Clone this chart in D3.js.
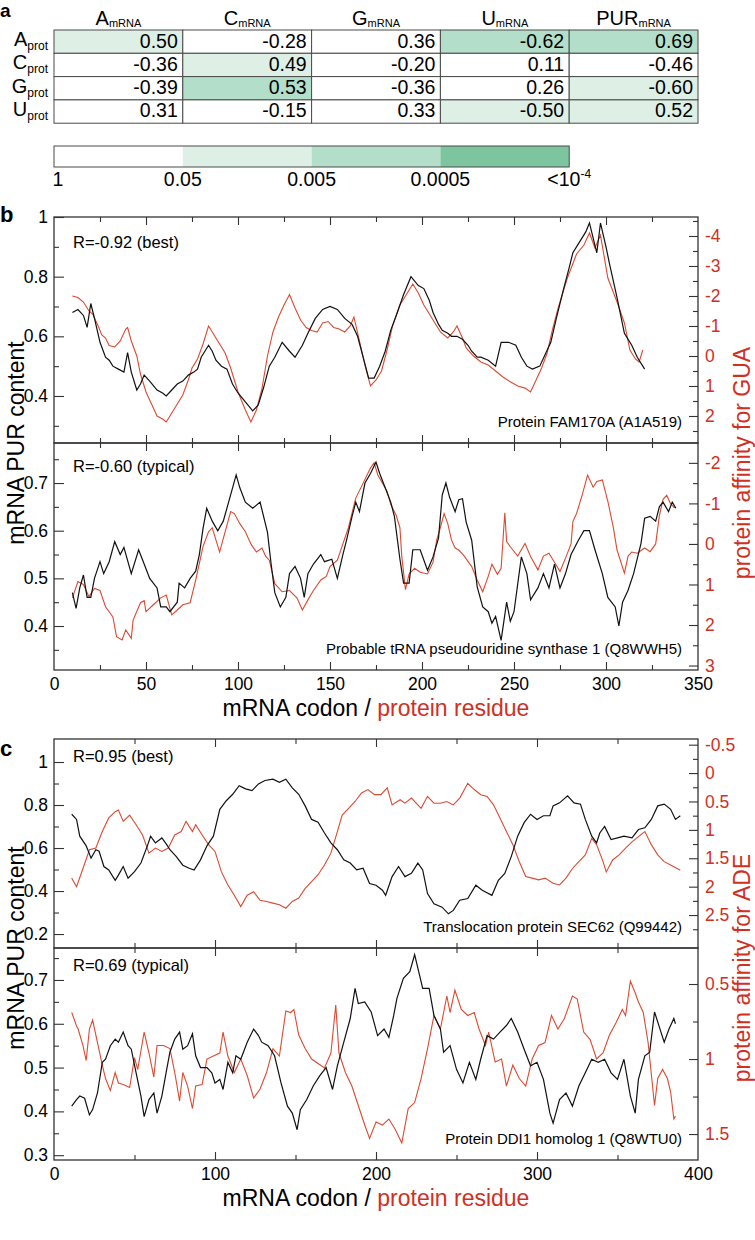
<!DOCTYPE html>
<html><head><meta charset="utf-8">
<script src="https://cdn.jsdelivr.net/npm/d3@7"></script>
<style>
body{margin:0;background:#fff}
svg{display:block}
text{font-family:"Liberation Sans",Arial,Helvetica,sans-serif}
</style>
</head><body>
<svg id="chart" width="755" height="1240"></svg>
<script>
// ---------------- DATA ----------------
const mRNACols = ["A","C","G","U","PUR"];
const protRows = ["A","C","G","U"];
const corrA = [0.50,-0.28,0.36,-0.62,0.69];
const corrC = [-0.36,0.49,-0.20,0.11,-0.46];
const corrG = [-0.39,0.53,-0.36,0.26,-0.60];
const corrU = [0.31,-0.15,0.33,-0.50,0.52];
// significance class: 0 p>0.05, 1 p<0.05, 2 p<0.005, 3 p<0.0005
const sigA = [1,0,0,2,2];
const sigC = [0,1,0,0,0];
const sigG = [0,2,0,0,1];
const sigU = [0,0,0,1,1];
const pLabels = ["1","0.05","0.005","0.0005","<10"];
const sigColors = ["#ffffff","#def0e6","#b3dec9","#7dc59f"];

// panel b (best): Protein FAM170A
const b1Pur = [[10,0.68],[13,0.69],[16,0.67],[18,0.63],[20,0.71],[22,0.66],[25,0.58],[28,0.53],[30,0.52],[32,0.50],[35,0.49],[38,0.48],[40,0.545],[42,0.48],[45,0.42],[47,0.44],[49,0.47],[52,0.45],[56,0.42],[59,0.41],[61,0.40],[64,0.42],[67,0.44],[70,0.45],[73,0.47],[76,0.48],[78,0.49],[80,0.53],[82,0.55],[84,0.57],[86,0.55],[88,0.52],[91,0.50],[94,0.49],[97,0.44],[100,0.41],[104,0.38],[108,0.35],[111,0.37],[114,0.43],[117,0.50],[120,0.53],[124,0.58],[128,0.55],[131,0.53],[135,0.57],[138,0.61],[142,0.66],[146,0.69],[150,0.70],[154,0.69],[158,0.66],[162,0.64],[165,0.60],[168,0.53],[171,0.46],[174,0.46],[177,0.50],[180,0.55],[183,0.62],[186,0.67],[190,0.74],[194,0.80],[198,0.77],[201,0.76],[204,0.72],[206,0.68],[209,0.64],[211,0.62],[214,0.61],[216,0.60],[219,0.60],[222,0.59],[225,0.57],[227,0.55],[230,0.53],[232,0.53],[236,0.52],[240,0.50],[243,0.58],[247,0.58],[251,0.57],[254,0.53],[257,0.50],[260,0.49],[264,0.50],[267,0.54],[270,0.58],[273,0.66],[277,0.76],[280,0.83],[282,0.88],[286,0.92],[289,0.95],[291,0.98],[293,0.93],[295,0.88],[297,0.98],[300,0.90],[302,0.84],[306,0.73],[310,0.61],[314,0.57],[317,0.53],[321,0.49]];
const b1Aff = [[10,-2.0],[13,-1.95],[16,-1.8],[19,-1.5],[21,-1.4],[24,-1.0],[26,-0.7],[28,-0.6],[30,-0.35],[33,-0.3],[36,-0.5],[39,-0.9],[40,-0.95],[42,-0.5],[45,0.0],[47,0.6],[50,1.2],[53,1.6],[56,2.0],[59,2.1],[61,2.2],[63,2.0],[66,1.7],[70,1.3],[73,0.8],[75,0.4],[78,0.1],[81,-0.4],[84,-1.0],[87,-0.7],[90,-0.4],[93,-0.1],[96,0.4],[100,1.2],[104,1.8],[107,2.2],[110,1.8],[113,1.1],[116,0.0],[119,-0.8],[122,-1.3],[125,-1.7],[128,-2.05],[131,-1.6],[134,-1.2],[137,-0.95],[140,-0.85],[143,-0.8],[146,-1.1],[149,-1.15],[152,-0.95],[155,-0.9],[158,-0.8],[161,-1.0],[163,-1.3],[166,-0.5],[169,0.3],[172,1.0],[175,0.8],[178,0.5],[181,-0.2],[184,-1.0],[188,-1.7],[192,-2.1],[195,-2.4],[198,-2.1],[201,-1.7],[204,-1.4],[207,-1.1],[210,-0.8],[214,-0.6],[217,-0.8],[219,-1.0],[222,-0.6],[224,-0.27],[228,0.0],[232,0.2],[236,0.3],[240,0.5],[244,0.7],[248,0.86],[252,1.0],[256,1.07],[259,1.2],[262,0.8],[265,0.4],[268,-0.1],[271,-0.9],[274,-1.6],[279,-2.6],[284,-3.4],[288,-3.7],[291,-4.1],[294,-3.6],[297,-4.03],[301,-2.6],[306,-1.8],[310,-1.1],[313,-0.2],[316,0.1],[318,0.2],[320,-0.2]];

// panel b (typical): Probable tRNA pseudouridine synthase 1
const b2Pur = [[10,0.47],[12,0.437],[14,0.48],[16,0.507],[18,0.46],[20,0.46],[22,0.50],[25,0.535],[27,0.51],[30,0.535],[33,0.577],[36,0.55],[38,0.565],[42,0.51],[46,0.56],[48,0.54],[52,0.50],[56,0.48],[58,0.44],[61,0.44],[63,0.43],[67,0.45],[68,0.49],[71,0.48],[74,0.50],[77,0.515],[79,0.55],[81,0.605],[83,0.647],[86,0.62],[89,0.60],[92,0.62],[96,0.675],[99,0.717],[101,0.69],[104,0.66],[108,0.647],[112,0.66],[116,0.597],[118,0.53],[120,0.47],[123,0.44],[126,0.46],[128,0.51],[131,0.525],[134,0.50],[136,0.46],[138,0.51],[141,0.53],[145,0.55],[147,0.535],[151,0.54],[154,0.50],[157,0.55],[159,0.58],[162,0.63],[164,0.66],[166,0.64],[169,0.70],[172,0.72],[175,0.744],[177,0.72],[180,0.69],[183,0.66],[185,0.63],[188,0.54],[190,0.49],[193,0.49],[195,0.56],[199,0.56],[203,0.517],[206,0.545],[209,0.585],[211,0.675],[213,0.70],[215,0.67],[218,0.64],[220,0.665],[222,0.667],[224,0.618],[227,0.58],[230,0.482],[233,0.44],[236,0.43],[238,0.406],[240,0.42],[243,0.37],[246,0.45],[248,0.41],[250,0.43],[254,0.545],[257,0.51],[259,0.455],[263,0.48],[266,0.51],[269,0.48],[272,0.53],[275,0.48],[278,0.51],[281,0.55],[285,0.58],[288,0.60],[291,0.60],[294,0.56],[298,0.51],[301,0.46],[305,0.44],[307,0.40],[309,0.45],[312,0.475],[315,0.51],[319,0.573],[321,0.626],[324,0.63],[327,0.62],[329,0.65],[331,0.66],[334,0.64],[336,0.66],[338,0.647]];
const b2Aff = [[10,1.33],[13,0.93],[16,1.0],[19,1.3],[22,1.1],[25,1.15],[28,1.55],[32,1.8],[34,2.29],[37,2.37],[39,2.12],[42,2.33],[43,1.88],[47,1.45],[49,1.4],[50,1.67],[54,1.5],[58,1.33],[61,1.26],[64,1.75],[67,1.63],[70,1.5],[74,1.45],[77,0.89],[81,0.06],[84,-0.3],[86,-0.4],[88,-0.1],[90,0.2],[93,-0.3],[96,-0.8],[98,-0.75],[101,-0.5],[104,-0.3],[107,0.0],[110,0.2],[113,0.1],[115,0.3],[117,0.4],[120,0.98],[124,1.18],[128,1.15],[132,1.33],[135,1.63],[138,1.38],[141,1.15],[145,0.89],[148,0.8],[150,0.56],[154,0.4],[157,0.0],[160,-0.4],[164,-1.13],[168,-1.5],[172,-1.87],[174,-2.0],[176,-1.7],[178,-1.54],[181,-1.3],[183,-0.98],[186,-0.7],[188,-0.4],[189,0.3],[191,1.13],[193,0.74],[196,0.6],[199,0.7],[203,0.74],[206,0.45],[208,-0.1],[210,-0.4],[212,-0.75],[214,-0.5],[216,-0.1],[218,0.1],[220,0.15],[223,0.3],[227,0.56],[230,0.89],[233,1.18],[236,0.8],[238,0.5],[241,0.75],[243,0.6],[245,-0.77],[246,-0.06],[248,0.07],[252,0.3],[256,-0.01],[259,0.31],[263,0.64],[266,0.3],[269,0.23],[272,0.45],[275,0.68],[278,0.35],[281,0.0],[282,-0.55],[284,-0.75],[287,-1.2],[290,-1.7],[293,-1.4],[295,-1.54],[298,-1.58],[301,-1.05],[304,-0.4],[306,0.15],[310,0.72],[312,0.3],[314,0.2],[317,0.23],[321,0.1],[324,0.19],[327,0.0],[329,-0.7],[331,-1.1],[333,-1.2],[335,-1.0],[337,-0.9],[338,-0.9]];

// panel c (best): Translocation protein SEC62
const c1Pur = [[11,0.757],[14,0.733],[16,0.655],[20,0.61],[23,0.553],[26,0.592],[28,0.585],[31,0.514],[34,0.498],[38,0.45],[40,0.474],[43,0.514],[46,0.46],[50,0.49],[54,0.53],[58,0.61],[60,0.655],[63,0.624],[67,0.647],[70,0.616],[72,0.592],[76,0.56],[80,0.52],[84,0.506],[87,0.498],[91,0.545],[95,0.61],[99,0.655],[103,0.78],[107,0.82],[111,0.85],[115,0.89],[119,0.875],[123,0.867],[127,0.898],[131,0.914],[136,0.92],[140,0.906],[144,0.92],[148,0.88],[152,0.85],[156,0.796],[160,0.733],[164,0.72],[168,0.67],[172,0.624],[176,0.592],[180,0.545],[184,0.53],[188,0.498],[192,0.506],[196,0.435],[200,0.427],[204,0.404],[206,0.38],[210,0.467],[214,0.514],[218,0.467],[222,0.482],[226,0.53],[229,0.498],[232,0.388],[236,0.341],[241,0.325],[245,0.294],[248,0.31],[252,0.357],[257,0.365],[262,0.427],[266,0.404],[272,0.38],[276,0.45],[280,0.482],[284,0.56],[288,0.655],[292,0.718],[296,0.757],[300,0.733],[304,0.75],[308,0.75],[310,0.796],[314,0.81],[319,0.843],[323,0.81],[327,0.804],[330,0.733],[334,0.655],[337,0.624],[339,0.67],[342,0.70],[346,0.639],[350,0.647],[354,0.655],[359,0.647],[363,0.686],[367,0.694],[371,0.733],[375,0.796],[379,0.804],[383,0.78],[386,0.733],[389,0.75]];
const c1Aff = [[11,1.85],[14,2.0],[18,1.68],[22,1.35],[26,1.32],[30,1.03],[34,0.79],[38,0.68],[40,0.65],[43,0.85],[47,0.74],[51,0.91],[55,1.09],[59,1.41],[63,1.32],[67,1.38],[71,1.32],[75,1.09],[79,1.03],[82,0.85],[86,1.03],[88,0.91],[92,1.09],[96,1.26],[100,1.38],[104,1.74],[108,1.97],[112,2.15],[116,2.35],[120,2.15],[124,2.09],[128,2.24],[132,2.26],[136,2.29],[140,2.32],[144,2.38],[148,2.26],[152,2.2],[156,2.03],[160,1.91],[164,1.79],[168,1.62],[172,1.41],[176,1.03],[179,0.74],[183,0.62],[187,0.5],[191,0.35],[195,0.29],[199,0.38],[203,0.38],[207,0.26],[210,0.56],[215,0.47],[218,0.53],[222,0.44],[228,0.62],[232,0.41],[236,0.53],[240,0.53],[244,0.5],[248,0.56],[252,0.44],[257,0.18],[261,0.29],[265,0.38],[269,0.41],[273,0.56],[277,0.79],[281,1.03],[285,1.26],[289,1.56],[293,1.82],[297,1.85],[301,1.88],[305,1.85],[310,1.94],[314,1.97],[318,1.85],[322,1.68],[326,1.56],[330,1.44],[334,1.15],[337,1.26],[341,1.56],[343,1.74],[347,1.53],[351,1.44],[355,1.32],[359,1.21],[363,1.12],[367,1.03],[371,1.26],[375,1.44],[379,1.56],[383,1.62],[389,1.71]];

// panel c (typical): Protein DDI1 homolog 1
const c2Pur = [[11,0.412],[14,0.427],[16,0.435],[19,0.43],[22,0.392],[24,0.404],[27,0.442],[30,0.512],[32,0.519],[35,0.55],[38,0.565],[40,0.558],[43,0.581],[46,0.55],[48,0.542],[51,0.488],[54,0.435],[56,0.388],[59,0.427],[62,0.442],[64,0.396],[67,0.435],[70,0.496],[72,0.535],[75,0.565],[78,0.581],[80,0.542],[83,0.55],[86,0.577],[88,0.527],[91,0.5],[95,0.5],[98,0.488],[100,0.465],[103,0.473],[105,0.45],[108,0.512],[111,0.488],[113,0.527],[116,0.519],[120,0.558],[124,0.588],[127,0.573],[129,0.558],[133,0.55],[137,0.527],[141,0.465],[145,0.412],[148,0.396],[151,0.358],[153,0.404],[157,0.427],[161,0.458],[165,0.481],[169,0.5],[173,0.45],[176,0.504],[180,0.558],[184,0.612],[187,0.681],[189,0.646],[193,0.65],[197,0.627],[201,0.573],[205,0.588],[208,0.569],[211,0.619],[213,0.658],[217,0.704],[221,0.719],[224,0.758],[226,0.727],[229,0.681],[233,0.681],[236,0.619],[240,0.588],[242,0.535],[246,0.55],[250,0.496],[254,0.465],[258,0.512],[262,0.473],[265,0.519],[269,0.573],[273,0.565],[277,0.581],[281,0.596],[284,0.612],[288,0.581],[292,0.542],[296,0.504],[300,0.512],[304,0.473],[308,0.396],[310,0.373],[314,0.427],[318,0.442],[322,0.412],[326,0.458],[330,0.488],[334,0.519],[338,0.512],[342,0.519],[346,0.488],[350,0.473],[354,0.519],[358,0.435],[361,0.396],[363,0.473],[367,0.527],[370,0.535],[373,0.627],[377,0.581],[379,0.558],[382,0.588],[385,0.612],[386,0.6]];
const c2Aff = [[11,0.69],[14,0.78],[15,0.8],[18,0.91],[20,1.01],[22,0.8],[24,0.74],[27,0.89],[30,1.04],[32,1.13],[35,1.21],[38,1.09],[40,1.16],[43,1.17],[47,1.19],[50,0.99],[52,1.07],[56,0.82],[59,0.96],[62,1.12],[64,0.91],[68,0.91],[72,0.93],[75,1.09],[78,1.28],[80,1.09],[83,1.18],[86,1.33],[88,1.18],[92,1.17],[95,1.0],[99,0.98],[103,0.96],[105,0.82],[108,0.98],[112,1.09],[116,1.0],[120,1.11],[124,1.26],[128,1.2],[132,1.09],[136,0.93],[140,0.98],[144,0.68],[147,0.69],[149,0.67],[152,0.84],[156,0.93],[160,1.0],[164,1.03],[168,1.06],[172,0.96],[175,0.64],[177,0.96],[181,1.09],[185,1.18],[189,1.31],[193,1.44],[196,1.53],[200,1.42],[204,1.44],[208,1.4],[212,1.47],[216,1.56],[220,1.33],[224,1.29],[228,1.13],[232,0.93],[236,0.71],[240,0.8],[244,0.58],[246,0.69],[249,0.54],[253,0.67],[257,0.71],[261,0.69],[264,0.8],[268,0.91],[270,0.82],[274,1.02],[278,1.0],[281,1.18],[285,1.04],[289,1.13],[293,1.18],[297,1.0],[301,0.91],[305,0.89],[309,0.71],[313,0.8],[317,0.73],[322,0.58],[325,0.6],[329,0.82],[333,0.87],[337,1.0],[341,0.96],[345,0.84],[349,0.76],[353,0.67],[355,0.71],[358,0.48],[361,0.56],[363,0.62],[366,0.69],[369,0.89],[373,1.31],[375,1.13],[378,1.07],[381,1.13],[383,1.22],[385,1.4],[386,1.38]];

const bXTicks = [0,50,100,150,200,250,300,350];
const bXMinor = [25,75,125,175,225,275,325];
const cXTicks = [0,100,200,300,400];
const cXMinor = [50,150,250,350];

// ---------------- DRAW ----------------
const svg = d3.select("#chart");
const L = 54, R = 698;
const RED = "#d0301f", LINE_RED = "#db4a33", AX = "#333";
const FONT_TICK = 17.5;

// ---- panel a: table ----
const tTop = 30, rowH = 23.3;
const colX = d3.scaleBand().domain(mRNACols).range([L, R]);
const rowY = d3.scaleBand().domain(protRows).range([tTop, tTop + rowH * 4]);
const corr = [corrA, corrC, corrG, corrU];
const sig = [sigA, sigC, sigG, sigU];
const ta = svg.append("g");
ta.append("text").attr("x", 0).attr("y", 17).attr("font-size", 19).attr("font-weight", "bold").text("a");
protRows.forEach((r, i) => {
  mRNACols.forEach((c, j) => {
    ta.append("rect").attr("x", colX(c)).attr("y", rowY(r)).attr("width", colX.bandwidth()).attr("height", rowY.bandwidth())
      .attr("fill", sigColors[sig[i][j]]).attr("stroke", "#4a4a4a").attr("stroke-width", 1);
    ta.append("text").attr("x", colX(c) + colX.bandwidth() - 5).attr("y", rowY(r) + 17.5)
      .attr("text-anchor", "end").attr("font-size", 19.5).text(corr[i][j].toFixed(2));
  });
  const lab = ta.append("text").attr("x", 48).attr("y", rowY(r) + 16).attr("text-anchor", "end").attr("font-size", 20);
  lab.append("tspan").text(r);
  lab.append("tspan").attr("font-size", 12).attr("dy", 4).text("prot");
});
mRNACols.forEach(c => {
  const h = ta.append("text").attr("x", colX(c) + colX.bandwidth() / 2).attr("y", 25).attr("text-anchor", "middle").attr("font-size", 20);
  h.append("tspan").text(c);
  h.append("tspan").attr("font-size", 11).attr("dy", 1.5).text("mRNA");
});
// colour bar
const cbX = d3.scaleLinear().domain([0, 4]).range([L, L + 4 * colX.bandwidth()]);
[0,1,2,3].forEach(k => {
  ta.append("rect").attr("x", cbX(k)).attr("y", 146).attr("width", cbX(k + 1) - cbX(k)).attr("height", 21)
    .attr("fill", sigColors[k]).attr("stroke", "none");
});
ta.append("rect").attr("x", cbX(0)).attr("y", 146).attr("width", cbX(4) - cbX(0)).attr("height", 21)
  .attr("fill", "none").attr("stroke", "#4a4a4a");
pLabels.forEach((p, k) => {
  const t = ta.append("text").attr("x", k === 0 ? cbX(0) + 4 : cbX(k)).attr("y", 186)
    .attr("text-anchor", "middle").attr("font-size", 19.5);
  t.append("tspan").text(p);
  if (k === 4) t.append("tspan").attr("font-size", 12).attr("dy", -8).text("-4");
});

// ---- generic sub-panel ----
function subPanel(o) {
  const g = svg.append("g");
  const x = d3.scaleLinear().domain([0, o.xMax]).range([L, R]);
  const yl = d3.scaleLinear().domain(o.lDom).range([o.y1, o.y0]);
  const yr = d3.scaleLinear().domain(o.rDom).range([o.y0, o.y1]);
  const clipId = "clip" + Math.round(o.y0);
  g.append("clipPath").attr("id", clipId).append("rect").attr("x", L).attr("y", o.y0).attr("width", R - L).attr("height", o.y1 - o.y0);

  const lines = g.append("g").attr("clip-path", `url(#${clipId})`);
  lines.append("path").datum(o.aff).attr("fill", "none").attr("stroke", LINE_RED).attr("stroke-width", 1.1)
    .attr("d", d3.line().x(d => x(d[0])).y(d => yr(d[1])));
  lines.append("path").datum(o.pur).attr("fill", "none").attr("stroke", "#111").attr("stroke-width", 1.2)
    .attr("d", d3.line().x(d => x(d[0])).y(d => yl(d[1])));

  const styleAxis = (sel, col) => {
    sel.select(".domain").remove();
    sel.selectAll("line").attr("stroke", AX).attr("stroke-width", 1.1);
    sel.selectAll("text").attr("font-size", FONT_TICK).attr("fill", col);
  };
  // left
  g.append("g").attr("transform", `translate(${L},0)`)
    .call(d3.axisLeft(yl).tickValues(o.lMajor).tickSize(-10).tickPadding(6).tickFormat(d => String(+d.toFixed(2))))
    .call(s => styleAxis(s, "#000"));
  g.append("g").attr("transform", `translate(${L},0)`)
    .call(d3.axisLeft(yl).tickValues(o.lMinor).tickSize(-5).tickFormat(""))
    .call(s => styleAxis(s, "#000"));
  // right
  g.append("g").attr("transform", `translate(${R},0)`)
    .call(d3.axisRight(yr).tickValues(o.rMajor).tickSize(-9).tickPadding(7).tickFormat(d => String(+d.toFixed(2))))
    .call(s => styleAxis(s, RED));
  g.append("g").attr("transform", `translate(${R},0)`)
    .call(d3.axisRight(yr).tickValues(o.rMinor).tickSize(-5).tickFormat(""))
    .call(s => styleAxis(s, RED));
  // top
  g.append("g").attr("transform", `translate(0,${o.y0})`)
    .call(d3.axisTop(x).tickValues(o.xMajor.filter(v => v > 0 && v < o.xMax)).tickSize(-8).tickFormat(""))
    .call(s => styleAxis(s, "#000"));
  g.append("g").attr("transform", `translate(0,${o.y0})`)
    .call(d3.axisTop(x).tickValues(o.xMinor).tickSize(-5).tickFormat(""))
    .call(s => styleAxis(s, "#000"));
  // bottom
  const bt = g.append("g").attr("transform", `translate(0,${o.y1})`)
    .call(d3.axisBottom(x).tickValues(o.xMajor).tickSize(-8).tickPadding(8).tickFormat(o.showX ? d => d : ""))
    .call(s => styleAxis(s, "#000"));
  bt.selectAll("line").filter(d => d === 0 || d === o.xMax).remove();
  g.append("g").attr("transform", `translate(0,${o.y1})`)
    .call(d3.axisBottom(x).tickValues(o.xMinor).tickSize(-5).tickFormat(""))
    .call(s => styleAxis(s, "#000"));
  // frame
  g.append("rect").attr("x", L).attr("y", o.y0).attr("width", R - L).attr("height", o.y1 - o.y0)
    .attr("fill", "none").attr("stroke", AX).attr("stroke-width", 1.3);
  // annotations
  g.append("text").attr("x", 73).attr("y", o.y0 + o.rOff).attr("font-size", 16.5).text(o.rLabel);
  g.append("text").attr("x", 682).attr("y", o.y1 - 16).attr("text-anchor", "end").attr("font-size", 15).text(o.name);
  return g;
}

function block(o) {
  subPanel(Object.assign({}, o.top, {xMax: o.xMax, xMajor: o.xMajor, xMinor: o.xMinor, showX: false}));
  subPanel(Object.assign({}, o.bot, {xMax: o.xMax, xMajor: o.xMajor, xMinor: o.xMinor, showX: true}));
  const mid = o.top.y1;
  svg.append("text").attr("x", 0).attr("y", o.top.y0 + o.letterOff).attr("font-size", 22).attr("font-weight", "bold").text(o.letter);
  svg.append("text").attr("transform", `translate(24,${mid}) rotate(-90)`).attr("text-anchor", "middle")
    .attr("font-size", 23).text("mRNA PUR content");
  svg.append("text").attr("transform", `translate(750,${mid + 20}) rotate(-90)`).attr("text-anchor", "middle")
    .attr("font-size", 23).attr("fill", RED).text(o.rightTitle);
  const xt = svg.append("text").attr("x", (L + R) / 2).attr("y", o.bot.y1 + 46).attr("text-anchor", "middle").attr("font-size", 23);
  xt.append("tspan").text("mRNA codon / ");
  xt.append("tspan").attr("fill", RED).text("protein residue");
}

block({
  letter: "b", letterOff: 5, rightTitle: "protein affinity for GUA",
  xMax: 350, xMajor: bXTicks, xMinor: bXMinor,
  top: {y0: 217, y1: 443, lDom: [0.2424, 1.0], rDom: [-4.633, 2.9],
        lMajor: [0.4,0.6,0.8,1], lMinor: [0.3,0.5,0.7,0.9],
        rMajor: [-4,-3,-2,-1,0,1,2], rMinor: [-4.5,-3.5,-2.5,-1.5,-0.5,0.5,1.5,2.5],
        pur: b1Pur, aff: b1Aff, rLabel: "R=-0.92 (best)", rOff: 31, name: "Protein FAM170A (A1A519)"},
  bot: {y0: 443, y1: 670, lDom: [0.3077, 0.784], rDom: [-2.49, 3.11],
        lMajor: [0.4,0.5,0.6,0.7], lMinor: [0.35,0.45,0.55,0.65,0.75],
        rMajor: [-2,-1,0,1,2,3], rMinor: [-1.5,-0.5,0.5,1.5,2.5],
        pur: b2Pur, aff: b2Aff, rLabel: "R=-0.60 (typical)", rOff: 29, name: "Probable tRNA pseudouridine synthase 1 (Q8WWH5)"}
});

block({
  letter: "c", letterOff: 17, rightTitle: "protein affinity for ADE",
  xMax: 400, xMajor: cXTicks, xMinor: cXMinor,
  top: {y0: 739, y1: 948, lDom: [0.135, 1.107], rDom: [-0.6, 3.08],
        lMajor: [0.2,0.4,0.6,0.8,1], lMinor: [0.3,0.5,0.7,0.9],
        rMajor: [-0.5,0,0.5,1,1.5,2,2.5], rMinor: [-0.25,0.25,0.75,1.25,1.75,2.25,2.75],
        pur: c1Pur, aff: c1Aff, rLabel: "R=0.95 (best)", rOff: 23, name: "Translocation protein SEC62 (Q99442)"},
  bot: {y0: 948, y1: 1160, lDom: [0.289, 0.773], rDom: [0.26, 1.673],
        lMajor: [0.3,0.4,0.5,0.6,0.7], lMinor: [0.35,0.45,0.55,0.65,0.75],
        rMajor: [0.5,1,1.5], rMinor: [0.75,1.25],
        pur: c2Pur, aff: c2Aff, rLabel: "R=0.69 (typical)", rOff: 23, name: "Protein DDI1 homolog 1 (Q8WTU0)"}
});
</script>
</body></html>
